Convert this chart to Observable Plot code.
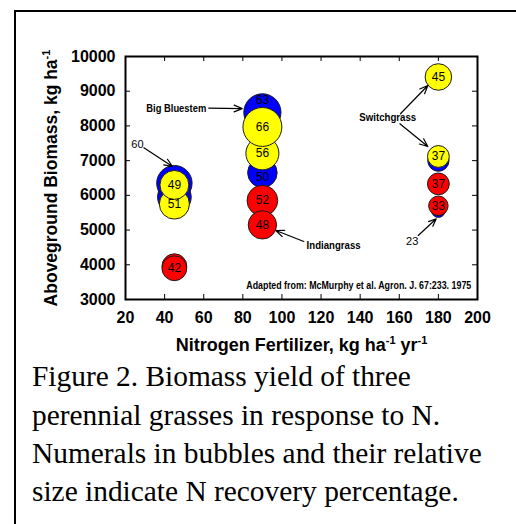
<!DOCTYPE html>
<html><head><meta charset="utf-8">
<script src="https://cdn.jsdelivr.net/npm/d3@7"></script>
<script src="https://cdn.jsdelivr.net/npm/@observablehq/plot@0.6"></script>
<style>
html,body{margin:0;padding:0;background:#fff;width:516px;height:524px;overflow:hidden;}
#box{position:absolute;left:14px;top:10px;width:700px;height:700px;border-left:2px solid #000;border-top:2px solid #000;}
#chart{position:absolute;left:0;top:0;}
#caption{position:absolute;left:32px;top:357.3px;font-family:'Liberation Serif','Times New Roman',serif;font-size:29.4px;line-height:38.3px;white-space:nowrap;color:#000;}
</style></head><body>
<div id="box"></div>
<div id="chart"></div>
<div id="caption"></div>
<script>
// ---- data ----
const xTicks = [20, 40, 60, 80, 100, 120, 140, 160, 180, 200];
const yTicks = [3000, 4000, 5000, 6000, 7000, 8000, 9000, 10000];

// Big Bluestem (blue)
const bluestemN = [45, 45, 90, 90, 180, 180];
const bluestemBiomass = [5950, 6350, 8390, 6650, 7000, 5560];
const bluestemRecovery = [57, 60, 63, 50, 36, 23];
const bluestemLabels = ["", "", "63", "50", "", ""];

// Switchgrass (yellow)
const switchgrassN = [45, 45, 90, 90, 180, 180];
const switchgrassBiomass = [5750, 6300, 7210, 7970, 7120, 9410];
const switchgrassRecovery = [51, 49, 56, 66, 37, 45];
const switchgrassLabels = ["51", "49", "56", "66", "37", "45"];

// Indiangrass (red)
const indiangrassN = [45, 45, 90, 90, 180, 180];
const indiangrassBiomass = [3960, 3900, 5850, 5150, 6330, 5700];
const indiangrassRecovery = [42, 42, 52, 48, 37, 33];
const indiangrassLabels = ["", "42", "52", "48", "37", "33"];

// annotations (data coordinates)
const noteText = ["Big Bluestem", "Switchgrass", "Indiangrass"];
const noteX = [61.3, 154.1, 112.6];
const noteY = [8515, 8234, 4547];
const noteAnchor = ["end", "middle", "start"];

const outsideText = ["60", "23"];
const outsideX = [26.1, 166.6];
const outsideY = [7465, 4671];

const arrowX1 = [62.6, 160.6, 160.3, 29.4, 111.2, 169.7];
const arrowY1 = [8510, 8350, 8061, 7370, 4671, 4844];
const arrowX2 = [79.7, 174.6, 174.6, 44.0, 96.9, 178.9];
const arrowY2 = [8500, 9165, 7407, 6831, 4988, 5325];

const sourceText = "Adapted from: McMurphy et al. Agron. J. 67:233. 1975";
const xLabel = "Nitrogen Fertilizer, kg ha⁻¹ yr⁻¹";
const yLabel = "Aboveground Biomass, kg ha⁻¹";
const captionLines = [
  "Figure 2. Biomass yield of three",
  "perennial grasses in response to N.",
  "Numerals in bubbles and their relative",
  "size indicate N recovery percentage."
];

// ---- chart ----
const idx = d3.range(6);

function bubbles(N, B, R, color) {
  return Plot.dot(idx, {x: i => N[i], y: i => B[i], r: i => R[i], fill: color, stroke: "#1a1a1a", strokeWidth: 1, sort: null});
}
function bubbleLabels(N, B, L, filter, dy) {
  return Plot.text(idx, {filter, x: i => N[i], y: i => B[i], text: i => L[i], fontSize: 12, fontWeight: "normal", fill: "#000", dy});
}

const W = 516, H = 360, mL = 125, mR = 39, mT = 56, mB = 61;
const fw = W - mL - mR, fh = H - mT - mB;

const svg = Plot.plot({
  width: W, height: H,
  marginLeft: mL, marginRight: mR, marginTop: mT, marginBottom: mB,
  style: "font-family: 'Liberation Sans', Arial, sans-serif; font-size: 16px; font-weight: bold; background: none; overflow: visible; color: #000;",
  x: {domain: [20, 200]},
  y: {domain: [3000, 10000]},
  r: {type: "linear", domain: [0, 100], range: [0, 29.5]},
  marks: [
    Plot.axisX({ticks: xTicks, tickSize: 0, tickPadding: 12, tickFormat: d => String(d), label: null}),
    Plot.axisY({ticks: yTicks, tickSize: 0, tickPadding: 10, tickFormat: d => String(d), label: null}),
    // inward ticks on all four sides
    Plot.tickX(xTicks, {x: d => d, insetTop: fh - 5, stroke: "#000", strokeWidth: 1}),
    Plot.tickX(xTicks, {x: d => d, insetBottom: fh - 5, stroke: "#000", strokeWidth: 1}),
    Plot.tickY(yTicks, {y: d => d, insetRight: fw - 5, stroke: "#000", strokeWidth: 1}),
    Plot.tickY(yTicks, {y: d => d, insetLeft: fw - 5, stroke: "#000", strokeWidth: 1}),
    // bubbles
    bubbles(bluestemN, bluestemBiomass, bluestemRecovery, "#0000ff"),
    bubbles(switchgrassN, switchgrassBiomass, switchgrassRecovery, "#ffff00"),
    bubbles(indiangrassN, indiangrassBiomass, indiangrassRecovery, "#ff0000"),
    bubbleLabels(bluestemN, bluestemBiomass, bluestemLabels, i => i === 2, -12),
    bubbleLabels(bluestemN, bluestemBiomass, bluestemLabels, i => i === 3, 4),
    bubbleLabels(switchgrassN, switchgrassBiomass, switchgrassLabels, i => switchgrassLabels[i] !== "", 0),
    bubbleLabels(indiangrassN, indiangrassBiomass, indiangrassLabels, i => indiangrassLabels[i] !== "", 0),
    // annotations
    Plot.arrow(idx, {x1: i => arrowX1[i], y1: i => arrowY1[i], x2: i => arrowX2[i], y2: i => arrowY2[i], stroke: "#000", strokeWidth: 1.2, headLength: 11, headAngle: 45}),
    ...noteText.map((t, k) => Plot.text([t], {x: noteX[k], y: noteY[k], text: d => d, textAnchor: noteAnchor[k], fontSize: 11, fontWeight: "bold"})),
    Plot.text(outsideText, {x: (d, i) => outsideX[i], y: (d, i) => outsideY[i], text: d => d, fontSize: 11, fontWeight: "normal"}),
    Plot.text([sourceText], {x: 196.8, y: 3403, text: d => d, textAnchor: "end", fontSize: 10, fontWeight: "bold"}),
    // axis titles
    Plot.text([xLabel], {frameAnchor: "bottom", textAnchor: "middle", text: d => d, dy: 51, fontSize: 18, fontWeight: "bold"}),
    Plot.text([yLabel], {frameAnchor: "left", textAnchor: "middle", text: d => d, dx: -74, rotate: -90, fontSize: 17.5, fontWeight: "bold"}),
    Plot.frame({stroke: "#000", strokeWidth: 2})
  ]
});

// condensed look for the small annotation texts
const condensed = new Map([["Big Bluestem", 60], ["Switchgrass", 57], ["Indiangrass", 54], [sourceText, 225]]);
d3.select(svg).selectAll("text").each(function () {
  const w = condensed.get(this.textContent);
  if (w) { this.setAttribute("textLength", w); this.setAttribute("lengthAdjust", "spacingAndGlyphs"); }
});

// superscripts as smaller raised text
d3.select(svg).selectAll("text").each(function () {
  const t = this.textContent;
  if (!t.includes("⁻¹")) return;
  const parts = t.split("⁻¹");
  const sel = d3.select(this);
  sel.text(null);
  let back = 0;
  parts.forEach((p, i) => {
    if (p) {
      const ts = sel.append("tspan").text(p);
      if (back) { ts.attr("dy", back); back = 0; }
    }
    if (i < parts.length - 1) {
      sel.append("tspan").attr("font-size", "11px").attr("dy", -7).text("-1");
      back = 7;
    }
  });
});

document.getElementById("chart").appendChild(svg);
const cap = document.getElementById("caption");
captionLines.forEach((line, i) => {
  if (i) cap.appendChild(document.createElement("br"));
  cap.appendChild(document.createTextNode(line));
});
</script>
</body></html>
